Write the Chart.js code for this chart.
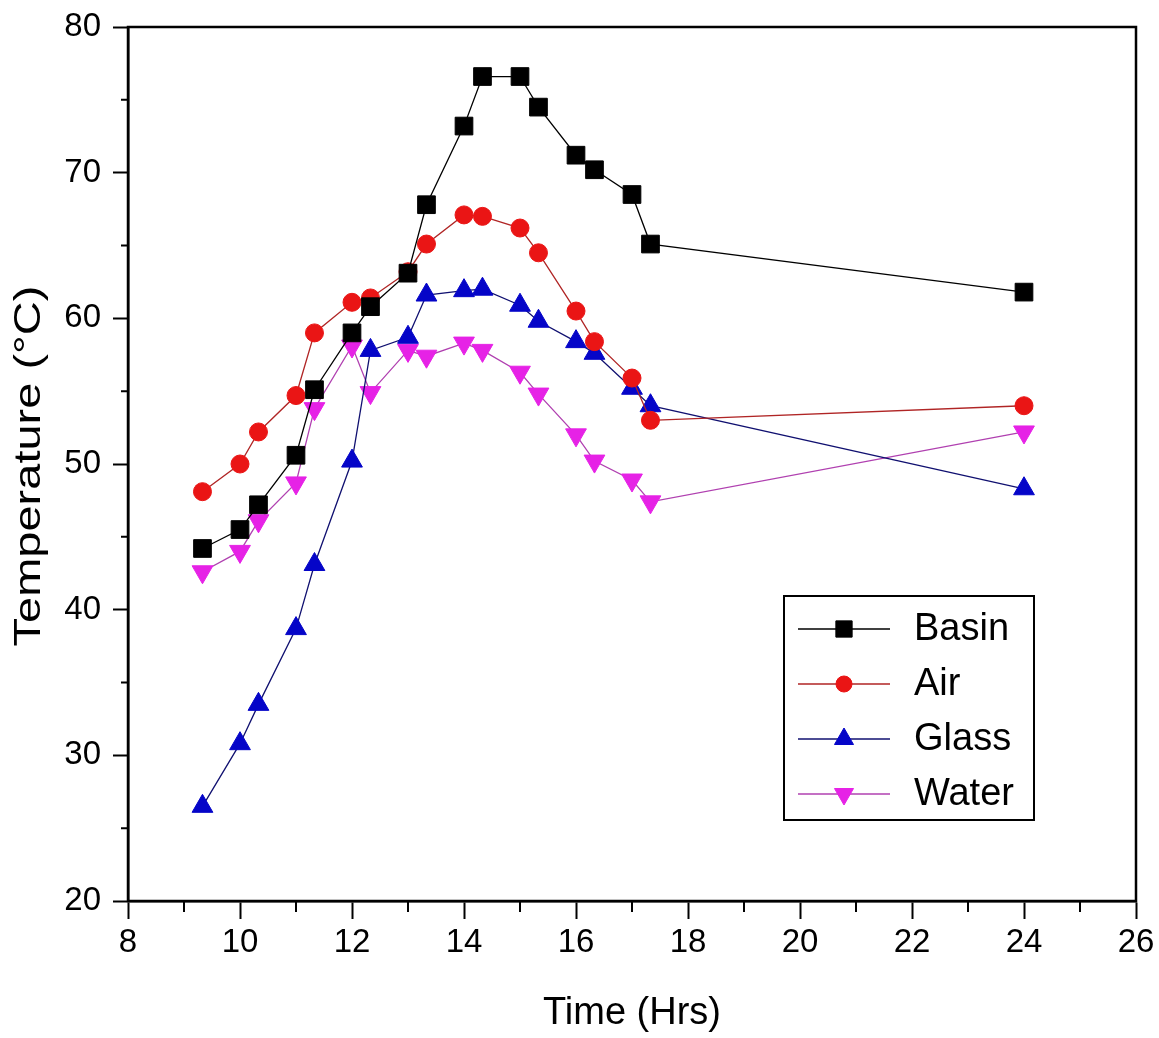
<!DOCTYPE html>
<html>
<head>
<meta charset="utf-8">
<script src="https://cdn.jsdelivr.net/npm/chart.js@4.4.0/dist/chart.umd.min.js"></script>
<style>
  html, body { margin: 0; padding: 0; background: #fff; }
  #contenedor { width: 1159px; height: 1038px; }
</style>
</head>
<body>
<div id="contenedor"><canvas id="grafico"></canvas></div>
<script>
// datos (hora del dia, temperatura en °C)
const tiempos = [9.33, 10, 10.33, 11, 11.33, 12, 12.33, 13, 13.33, 14, 14.33, 15, 15.33, 16, 16.33, 17, 17.33, 24];
const basin = [44.2, 45.5, 47.2, 50.6, 55.1, 59.0, 60.8, 63.1, 67.8, 73.2, 76.6, 76.6, 74.5, 71.2, 70.2, 68.5, 65.1, 61.8];
const air   = [48.1, 50.0, 52.2, 54.7, 59.0, 61.1, 61.4, 63.2, 65.1, 67.1, 67.0, 66.2, 64.5, 60.5, 58.4, 55.9, 53.0, 54.0];
const glass = [26.5, 30.8, 33.5, 38.7, 43.1, 50.2, 57.8, 58.7, 61.6, 61.9, 62.0, 60.9, 59.8, 58.4, 57.6, 55.2, 54.0, 48.3];
const water = [42.6, 44.0, 46.1, 48.7, 53.8, 58.1, 54.9, 57.8, 57.4, 58.3, 57.8, 56.3, 54.8, 52.0, 50.2, 48.9, 47.4, 52.2];

const xTicks = [8, 10, 12, 14, 16, 18, 20, 22, 24, 26];
const yTicks = [20, 30, 40, 50, 60, 70, 80];
const xMinor = [9, 11, 13, 15, 17, 19, 21, 23, 25];
const yMinor = [25, 35, 45, 55, 65, 75];

const tituloY = "Temperature (°C)";
const fuente = "'Liberation Sans', Arial, sans-serif";

function puntos(valores) {
  return tiempos.map((t, i) => ({ x: t, y: valores[i] }));
}

function serie(nombre, valores, marcador, linea, estilo, radio, rot) {
  return {
    label: nombre,
    data: puntos(valores),
    showLine: true,
    borderColor: linea,
    borderWidth: 1.3,
    pointStyle: estilo,
    pointRadius: radio,
    pointRotation: rot || 0,
    pointBackgroundColor: marcador,
    pointBorderColor: marcador,
    pointBorderWidth: 1,
    tension: 0
  };
}

// marco completo + ticks menores + titulo del eje y (mas alargado que la fuente normal)
const marco = {
  id: "marco",
  afterDraw(chart) {
    const { ctx, chartArea: a, scales } = chart;
    ctx.save();
    ctx.strokeStyle = "#000";
    ctx.lineWidth = 2.5;
    ctx.strokeRect(a.left, a.top, a.right - a.left, a.bottom - a.top);
    ctx.lineWidth = 2;
    ctx.beginPath();
    xMinor.forEach(v => {
      const px = scales.x.getPixelForValue(v);
      ctx.moveTo(px, a.bottom);
      ctx.lineTo(px, a.bottom + 11);
    });
    yMinor.forEach(v => {
      const py = scales.y.getPixelForValue(v);
      ctx.moveTo(a.left, py);
      ctx.lineTo(a.left - 7, py);
    });
    ctx.stroke();

    const cy = (scales.y.top + scales.y.bottom) / 2 + 2;
    ctx.translate(30, cy);
    ctx.rotate(-Math.PI / 2);
    ctx.scale(1.27, 1);
    ctx.fillStyle = "#000";
    ctx.font = "37px " + fuente;
    ctx.textAlign = "center";
    ctx.textBaseline = "middle";
    ctx.fillText(tituloY, 0, 0);
    ctx.restore();
  }
};

// leyenda dentro del area del grafico
const leyenda = {
  id: "leyenda",
  afterDraw(chart) {
    const ctx = chart.ctx;
    const x0 = 784, y0 = 596, w = 250, h = 224;
    ctx.save();
    ctx.fillStyle = "#fff";
    ctx.fillRect(x0, y0, w, h);
    ctx.strokeStyle = "#000";
    ctx.lineWidth = 2;
    ctx.strokeRect(x0, y0, w, h);
    chart.data.datasets.forEach((ds, i) => {
      const cy = 629 + i * 55;
      ctx.strokeStyle = ds.borderColor;
      ctx.lineWidth = 1.5;
      ctx.beginPath();
      ctx.moveTo(798, cy);
      ctx.lineTo(890, cy);
      ctx.stroke();
      ctx.fillStyle = ds.pointBackgroundColor;
      ctx.strokeStyle = ds.pointBorderColor;
      ctx.lineWidth = 1;
      Chart.helpers.drawPoint(ctx, {
        pointStyle: ds.pointStyle,
        rotation: ds.pointRotation,
        radius: ds.pointRadius - 1,
        borderWidth: 1
      }, 844, cy);
      ctx.fillStyle = "#000";
      ctx.font = "38px " + fuente;
      ctx.textBaseline = "middle";
      ctx.fillText(ds.label, 914, cy + 1);
    });
    ctx.restore();
  }
};

new Chart(document.getElementById("grafico"), {
  type: "scatter",
  data: {
    datasets: [
      serie("Basin", basin, "#000000", "#000000", "rect", 12.5),
      serie("Air", air, "#ea1515", "#b02525", "circle", 9),
      serie("Glass", glass, "#0505c8", "#101070", "triangle", 12),
      serie("Water", water, "#e622e6", "#b040b0", "triangle", 12, 180)
    ]
  },
  options: {
    responsive: true,
    maintainAspectRatio: false,
    animation: false,
    devicePixelRatio: 1,
    layout: { padding: { top: 27, right: 23, left: 0, bottom: 0 } },
    plugins: {
      legend: { display: false },
      tooltip: { enabled: false }
    },
    scales: {
      x: {
        type: "linear",
        min: 8,
        max: 26,
        afterBuildTicks: s => { s.ticks = xTicks.map(v => ({ value: v })); },
        afterFit: s => { s.height = 137; },
        ticks: { color: "#000", font: { family: fuente, size: 33 }, padding: 4, maxRotation: 0 },
        grid: { drawOnChartArea: false, drawTicks: true, tickLength: 18, tickColor: "#000", tickWidth: 2 },
        border: { display: true, color: "#000", width: 2.5 },
        title: { display: true, text: "Time (Hrs)", color: "#000", font: { family: fuente, size: 38 }, padding: { top: 10, bottom: 2 } }
      },
      y: {
        type: "linear",
        min: 20,
        max: 80,
        afterBuildTicks: s => { s.ticks = yTicks.map(v => ({ value: v })); },
        afterFit: s => { s.width = 128; s.paddingTop = 0; s.paddingBottom = 0; },
        ticks: { color: "#000", font: { family: fuente, size: 33 }, padding: 12 },
        grid: { drawOnChartArea: false, drawTicks: true, tickLength: 15, tickColor: "#000", tickWidth: 2 },
        border: { display: true, color: "#000", width: 2.5 },
        title: { display: false }
      }
    }
  },
  plugins: [marco, leyenda]
});
</script>
</body>
</html>
